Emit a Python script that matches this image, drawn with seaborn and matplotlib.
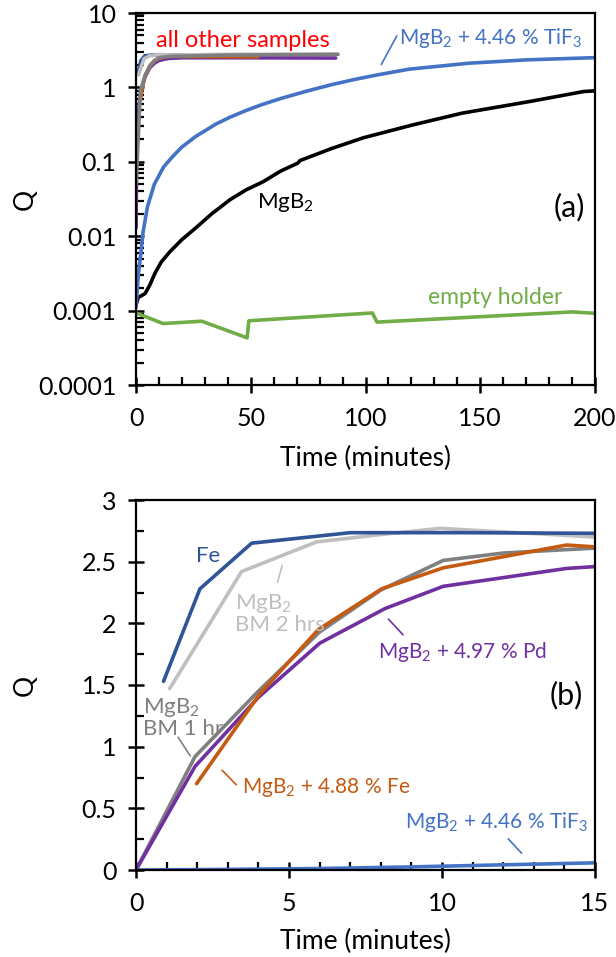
import numpy as np
import pandas as pd
import matplotlib
matplotlib.use("Agg")
import matplotlib.pyplot as plt
from matplotlib.ticker import FixedLocator, FixedFormatter, MultipleLocator
import seaborn as sns

# ---------------- data: panel (a), log scale, 0-200 min ----------------
a_tif3_t = [0, 1, 2, 3, 5, 8, 12, 16, 20, 26, 35, 41, 48, 55, 63, 75, 85, 95, 105, 119, 145, 170, 200]
a_tif3_q = [0.0011, 0.003, 0.0055, 0.011, 0.025, 0.05, 0.085, 0.118, 0.158, 0.219, 0.324, 0.398, 0.49, 0.589, 0.708, 0.902, 1.084, 1.274, 1.469, 1.758, 2.113, 2.344, 2.512]
a_mgb2_t = [0, 1, 4, 6, 8.3, 11, 14.8, 20, 26.5, 33, 41, 48, 55.4, 63, 70.5, 71.5, 85, 99, 120, 142, 172, 195, 200]
a_mgb2_q = [0.0012, 0.0015, 0.0017, 0.0022, 0.0032, 0.0045, 0.0062, 0.009, 0.0133, 0.02, 0.031, 0.042, 0.054, 0.075, 0.096, 0.104, 0.15, 0.21, 0.31, 0.45, 0.65, 0.88, 0.9]
a_empty_t = [0, 11.8, 28.7, 48.4, 49.2, 103, 105, 190, 200]
a_empty_q = [0.00093, 0.00067, 0.00072, 0.00043, 0.00073, 0.00093, 0.0007, 0.00096, 0.00092]
a_pd_t = [0.05, 0.3, 1, 2, 4, 6, 8.1, 10, 14, 20, 50, 87]
a_pd_q = [0.013, 0.15, 0.45, 0.85, 1.4, 1.84, 2.12, 2.3, 2.45, 2.5, 2.5, 2.48]
a_fe488_t = [1.7, 2, 3, 4, 6, 8, 10, 14, 20, 53]
a_fe488_q = [0.68, 0.7, 1.1, 1.45, 1.95, 2.28, 2.45, 2.63, 2.6, 2.58]
a_fe_t = [0.9, 2.1, 3.8, 7, 11, 15, 25]
a_fe_q = [1.53, 2.28, 2.65, 2.73, 2.73, 2.72, 2.72]
a_bm2_t = [1.1, 3.45, 5.9, 9.9, 15, 40, 88]
a_bm2_q = [1.47, 2.42, 2.66, 2.77, 2.72, 2.78, 2.8]
a_bm1_t = [0.05, 1.93, 4, 6, 8, 10, 15, 40, 88]
a_bm1_q = [0.05, 0.92, 1.45, 1.93, 2.27, 2.51, 2.61, 2.72, 2.78]

a_yticks = [0.0001, 0.001, 0.01, 0.1, 1, 10]
a_yticklabels = ["0.0001", "0.001", "0.01", "0.1", "1", "10"]
a_xticks = [0, 50, 100, 150, 200]

# ---------------- data: panel (b), linear, 0-15 min ----------------
b_fe_t = [0.9, 2.09, 3.78, 7.0, 10.7, 15]
b_fe_q = [1.53, 2.28, 2.65, 2.735, 2.735, 2.73]
b_bm2_t = [1.1, 3.45, 5.9, 8.0, 9.93, 15]
b_bm2_q = [1.47, 2.42, 2.66, 2.72, 2.77, 2.70]
b_bm1_t = [0, 1.93, 4.0, 6.0, 8.0, 10.04, 12.0, 15]
b_bm1_q = [0, 0.92, 1.45, 1.93, 2.27, 2.51, 2.57, 2.61]
b_fe488_t = [1.98, 4.05, 5.96, 8.03, 10.04, 14.07, 15]
b_fe488_q = [0.70, 1.43, 1.95, 2.28, 2.45, 2.635, 2.62]
b_pd_t = [0, 1.93, 4.0, 6.01, 8.14, 10.04, 14.07, 15]
b_pd_q = [0, 0.84, 1.40, 1.84, 2.12, 2.30, 2.445, 2.46]
b_tif3_t = [0, 3, 6, 9, 12, 15]
b_tif3_q = [0, 0.005, 0.012, 0.025, 0.042, 0.058]

b_xticks = [0, 5, 10, 15]
b_yticks = [0, 0.5, 1, 1.5, 2, 2.5, 3]
b_yticklabels = ["0", "0.5", "1", "1.5", "2", "2.5", "3"]

C_BLUE = "#4472C4"
C_GREEN = "#70AD47"
C_PURPLE = "#7030A0"
C_ORANGE = "#C55A11"
C_FE = "#2F5597"
C_LGRAY = "#BFBFBF"
C_DGRAY = "#7F7F7F"

sns.set_style("ticks")
plt.rcParams["font.family"] = ["Lato", "DejaVu Sans"]
plt.rcParams["mathtext.fontset"] = "custom"
plt.rcParams["mathtext.rm"] = "Lato"
plt.rcParams["mathtext.it"] = "Lato:italic"
plt.rcParams["mathtext.bf"] = "Lato:bold"
for a in ("xtick", "ytick"):
    plt.rcParams[f"{a}.direction"] = "inout"
    plt.rcParams[f"{a}.major.size"] = 12
    plt.rcParams[f"{a}.minor.size"] = 6
    plt.rcParams[f"{a}.major.width"] = 1.8
    plt.rcParams[f"{a}.minor.width"] = 1.6
    plt.rcParams[f"{a}.color"] = "black"
    plt.rcParams[f"{a}.labelcolor"] = "black"
    plt.rcParams[f"{a}.labelsize"] = 18
plt.rcParams["xtick.bottom"] = True
plt.rcParams["xtick.top"] = False
plt.rcParams["ytick.left"] = True
plt.rcParams["ytick.right"] = False
plt.rcParams["xtick.major.pad"] = 10
plt.rcParams["ytick.major.pad"] = 8
plt.rcParams["axes.linewidth"] = 1.6
plt.rcParams["axes.edgecolor"] = "black"

fig = plt.figure(figsize=(6.16, 9.57), dpi=100)
W, H = 616, 957
def px_axes(l, t, r, b):
    return fig.add_axes([l / W, 1 - b / H, (r - l) / W, (b - t) / H])

ax1 = px_axes(136, 13, 595, 385)
ax2 = px_axes(136, 500, 595, 870)

LW = 2.6

def line(ax, t, q, color, lw=LW):
    df = pd.DataFrame({"t": t, "q": q})
    sns.lineplot(data=df, x="t", y="q", ax=ax, color=color, lw=lw,
                 sort=False, estimator=None, legend=False)

# panel (a)
line(ax1, a_pd_t, a_pd_q, C_PURPLE)
line(ax1, a_fe488_t, a_fe488_q, C_ORANGE)
line(ax1, a_fe_t, a_fe_q, C_FE)
line(ax1, a_bm2_t, a_bm2_q, C_LGRAY)
line(ax1, a_bm1_t, a_bm1_q, C_DGRAY)
line(ax1, a_empty_t, a_empty_q, C_GREEN)
line(ax1, a_mgb2_t, a_mgb2_q, "black")
line(ax1, a_tif3_t, a_tif3_q, C_BLUE)

ax1.set_yscale("log")
ax1.set_xlim(0, 200)
ax1.set_ylim(0.0001, 10)
ax1.yaxis.set_major_locator(FixedLocator(a_yticks))
ax1.yaxis.set_major_formatter(FixedFormatter(a_yticklabels))
ax1.xaxis.set_major_locator(FixedLocator(a_xticks))
ax1.xaxis.set_minor_locator(MultipleLocator(10))

# panel (b)
line(ax2, b_bm1_t, b_bm1_q, C_DGRAY)
line(ax2, b_pd_t, b_pd_q, C_PURPLE)
line(ax2, b_fe488_t, b_fe488_q, C_ORANGE)
line(ax2, b_bm2_t, b_bm2_q, C_LGRAY)
line(ax2, b_fe_t, b_fe_q, C_FE)
line(ax2, b_tif3_t, b_tif3_q, C_BLUE)

ax2.set_xlim(0, 15)
ax2.set_ylim(0, 3)
ax2.xaxis.set_major_locator(FixedLocator(b_xticks))
ax2.xaxis.set_minor_locator(MultipleLocator(1))
ax2.yaxis.set_major_locator(FixedLocator(b_yticks))
ax2.yaxis.set_major_formatter(FixedFormatter(b_yticklabels))
ax2.yaxis.set_minor_locator(MultipleLocator(0.25))

for ax in (ax1, ax2):
    ax.tick_params(axis="both", which="minor", direction="in")
    ax.set_xlabel("Time (minutes)", fontsize=19, color="black")
    ax.set_ylabel("Q", fontsize=19, color="black")
    ax.yaxis.set_label_coords(-0.215, 0.5)

ax1.xaxis.set_label_coords(0.5, -0.165)
ax2.xaxis.set_label_coords(0.5, -0.16)
for ax in (ax1, ax2):
    ax.xaxis.label.set_va("top")

ANN = 15
# annotations (a)
ax1.text(46.4, 4.33, "all other samples", color="#FF0000", fontsize=17, ha="center", va="center")
ax1.text(114.5, 4.6, r"MgB$_2$ + 4.46 % TiF$_3$", color=C_BLUE, fontsize=ANN, ha="left", va="center")
ax1.annotate("", xy=(106.3, 1.88), xytext=(114.2, 5.3),
             arrowprops=dict(arrowstyle="-", color=C_BLUE, lw=1.2))
ax1.text(52.7, 0.028, r"MgB$_2$", color="black", fontsize=16, ha="left", va="center")
ax1.text(189, 0.0245, "(a)", color="black", fontsize=22, ha="center", va="center")
ax1.text(156.4, 0.00152, "empty holder", color=C_GREEN, fontsize=16.5, ha="center", va="center")

# annotations (b)
ax2.text(2.35, 2.55, "Fe", color=C_FE, fontsize=16, ha="center", va="center")
ax2.text(3.24, 2.08, "MgB$_2$\nBM 2 hrs", color=C_LGRAY, fontsize=16, ha="left", va="center",
         linespacing=1.0)
ax2.annotate("", xy=(4.8, 2.49), xytext=(4.6, 2.31),
             arrowprops=dict(arrowstyle="-", color=C_LGRAY, lw=1.2))
ax2.text(0.23, 1.24, "MgB$_2$\nBM 1 hr", color=C_DGRAY, fontsize=16, ha="left", va="center",
         linespacing=1.0)
ax2.annotate("", xy=(1.82, 0.906), xytext=(1.33, 1.095),
             arrowprops=dict(arrowstyle="-", color=C_DGRAY, lw=1.2))
ax2.text(3.45, 0.665, r"MgB$_2$ + 4.88 % Fe", color=C_ORANGE, fontsize=ANN, ha="left", va="center")
ax2.annotate("", xy=(2.75, 0.825), xytext=(3.34, 0.675),
             arrowprops=dict(arrowstyle="-", color=C_ORANGE, lw=1.2))
ax2.text(7.9, 1.77, r"MgB$_2$ + 4.97 % Pd", color=C_PURPLE, fontsize=ANN, ha="left", va="center")
ax2.annotate("", xy=(8.19, 2.05), xytext=(8.79, 1.89),
             arrowprops=dict(arrowstyle="-", color=C_PURPLE, lw=1.2))
ax2.text(8.79, 0.39, r"MgB$_2$ + 4.46 % TiF$_3$", color=C_BLUE, fontsize=ANN, ha="left", va="center")
ax2.annotate("", xy=(12.66, 0.12), xytext=(12.1, 0.27),
             arrowprops=dict(arrowstyle="-", color=C_BLUE, lw=1.2))
ax2.text(14.07, 1.42, "(b)", color="black", fontsize=22, ha="center", va="center")

fig.savefig("out.png", dpi=100, facecolor="white")
